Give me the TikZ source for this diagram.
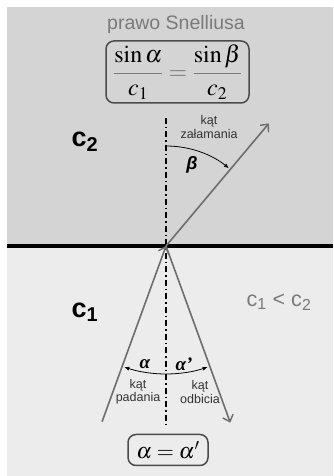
\documentclass[tikz,border=0pt]{standalone}
\usepackage{amsmath}
\usepackage{mathptmx}
\usepackage{fontspec}
\setmainfont{Liberation Sans}
\newfontfamily\serifgreek{Liberation Serif}
\usetikzlibrary{arrows.meta,positioning}
\definecolor{topgray}{HTML}{D4D4D4}
\definecolor{botgray}{HTML}{ECECEC}
\definecolor{raygray}{HTML}{6E6E6E}
\definecolor{labgray}{HTML}{7A7A7A}
\tikzset{
  ray/.style={draw=raygray, line width=1.6pt, -{Straight Barb[length=6pt, width=11pt, line width=1.4pt]}},
  anglearc/.style={line width=0.8pt, -{Latex[length=5pt, width=4pt]}},
  normalline/.style={line width=1.3pt, dash pattern=on 6pt off 3pt on 1.5pt off 3pt},
  lawbox/.style={draw=black!70, line width=1.5pt, rounded corners=8pt, inner sep=3pt},
  medium/.style={font=\fontsize{27}{29}\selectfont\bfseries},
  anglename/.style={font=\fontsize{12.5}{13.5}\selectfont, text=black!80, align=center},
  anglesym/.style={font=\fontsize{18}{18}\selectfont\bfseries\itshape}
}

\begin{document}
\begin{tikzpicture}[x=1pt, y=1pt]
  \useasboundingbox (0,0) rectangle (333,476);
  % two media
  \fill[botgray] (7,0) rectangle (333,230);
  \fill[topgray] (7,230) rectangle (333,469);
  \draw[line width=4pt] (7,230) -- (333,230);

  \coordinate (O) at (166,230);
  \coordinate (ntop) at (166,358);
  \coordinate (nbot) at (166,51);
  \path (O) ++(250:187) coordinate (src);
  \path (O) ++(290:188) coordinate (refl);
  \path (O) ++(50:160) coordinate (refr);

  \draw[normalline] (ntop) -- (nbot);
  \draw[ray] (src) -- (O);
  \draw[ray] (O) -- (refl);
  \draw[ray] (O) -- (refr);

  % angles
  \draw[anglearc] (O) ++(270:128) arc[start angle=270, end angle=251, radius=128];
  \draw[anglearc] (O) ++(270:128) arc[start angle=270, end angle=289, radius=128];
  \draw[anglearc] (O) ++(90:100) arc[start angle=90, end angle=51, radius=100];

  \node[anglesym] (beta) at (192,311) {β};
  \node[anglesym, font=\fontsize{19}{19}\selectfont\bfseries\itshape\serifgreek] (alpha) at (145,112) {α};
  \node[anglesym, font=\fontsize{19}{19}\selectfont\bfseries\itshape\serifgreek] (alphap) at (184,112) {α’};
  \node[anglename] (refrname) at (209,349) {kąt\\załamania};
  \node[anglename] (incname) at (138,84) {kąt\\padania};
  \node[anglename] (reflname) at (200,84) {kąt\\odbicia};

  % media labels
  \node[medium] (ctwo) at (85,334) {c\textsubscript{2}};
  \node[medium] (cone) at (85,164) {c\textsubscript{1}};
  \node[font=\fontsize{21.5}{23}\selectfont, text=labgray] (cmp) at (279,174) {c\textsubscript{1} < c\textsubscript{2}};

  % laws
  \node[font=\fontsize{19.5}{21}\selectfont, text=labgray, inner sep=0pt] (title) at (176,452) {prawo Snelliusa};
  \node[lawbox, minimum width=143pt, minimum height=62pt, inner sep=1pt, font=\fontsize{24}{26}\selectfont] (snell) at (177.5,404)
    {$\displaystyle\color{labgray}\frac{\color{black}\sin\alpha}{\color{black}c_1}=\frac{\color{black}\sin\beta}{\color{black}c_2}$};
  \node[lawbox, minimum width=80pt, minimum height=31pt, inner sep=1pt, font=\fontsize{22}{24}\selectfont] (eqbox) at (168,26)
    {$\alpha=\alpha'$};
\end{tikzpicture}
\end{document}
